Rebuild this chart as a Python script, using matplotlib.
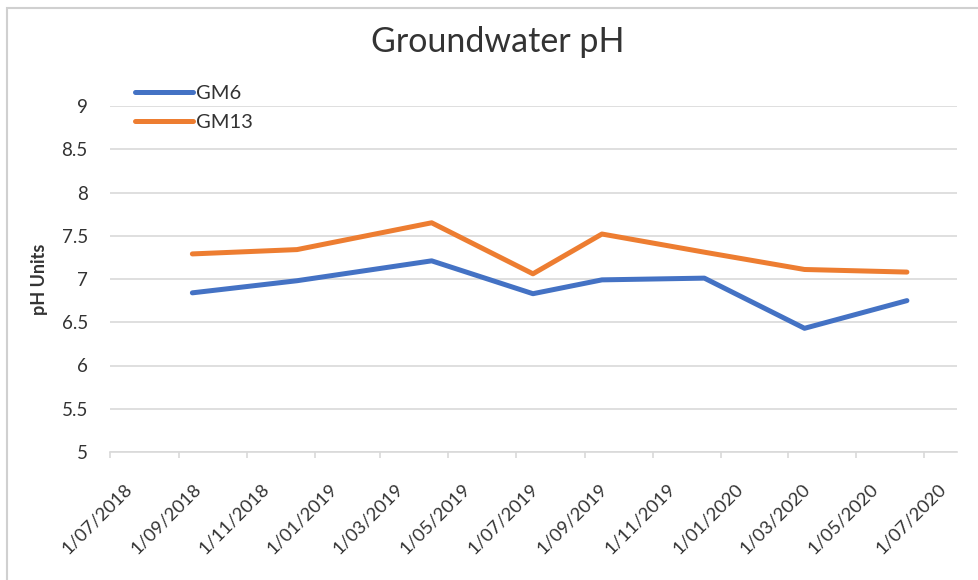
import matplotlib
matplotlib.use("Agg")
import matplotlib.pyplot as plt
import matplotlib.dates as mdates
import matplotlib.patches as mpatches
import matplotlib.transforms as mtransforms
from datetime import datetime

plt.rcParams['font.family'] = ['Lato', 'DejaVu Sans']

# Données
dates = ["2018-09-13", "2018-12-16", "2019-04-16", "2019-07-16",
         "2019-09-16", "2019-12-17", "2020-03-16", "2020-06-16"]
gm6 = [6.84, 6.98, 7.21, 6.83, 6.99, 7.01, 6.43, 6.75]
gm13 = [7.29, 7.34, 7.65, 7.06, 7.52, 7.31, 7.11, 7.08]
series_name = ["GM6", "GM13"]
colors = ["#4472C4", "#ED7D31"]
yticks = [5, 5.5, 6, 6.5, 7, 7.5, 8, 8.5, 9]

x = [datetime.strptime(d, "%Y-%m-%d") for d in dates]
txt = "#333333"

fig = plt.figure(figsize=(9.79, 5.80), dpi=100)
ax = fig.add_axes([110/979, 1-452/580, (957-110)/979, (452-106)/580])

# Cadre gris autour du graphique
fig.patches.append(mpatches.Rectangle((7/979, -0.05), 1.0, 1-8/580+0.05,
                                      transform=fig.transFigure, fill=False,
                                      edgecolor="#d0d0d0", linewidth=1.5))

for vals, name, c in zip([gm6, gm13], series_name, colors):
    ax.plot(x, vals, color=c, linewidth=3.6, label=name, solid_capstyle="round")

ax.set_ylim(5, 9)
ax.set_yticks(yticks)
ax.set_yticklabels([f"{v:g}" for v in yticks])
ax.set_xlim(datetime(2018, 7, 1), datetime(2020, 7, 31))
ax.xaxis.set_major_locator(mdates.MonthLocator(bymonth=[1, 3, 5, 7, 9, 11]))
ax.xaxis.set_major_formatter(plt.FuncFormatter(
    lambda v, pos: (lambda d: f"{d.day}/{d:%m/%Y}")(mdates.num2date(v))))

ax.grid(axis="y", color="#d9d9d9", linewidth=1.2)
ax.set_axisbelow(True)
for s in ["top", "right", "left"]:
    ax.spines[s].set_visible(False)
ax.spines["bottom"].set_color("#d9d9d9")
ax.spines["bottom"].set_linewidth(1.2)
ax.tick_params(axis="y", length=0, pad=16, labelsize=13.5, labelcolor=txt)
ax.tick_params(axis="x", length=4, width=1.2, color="#d9d9d9", pad=2,
               labelsize=13.3, labelcolor=txt)
shift = mtransforms.ScaledTranslation(0.14, -0.20, fig.dpi_scale_trans)
for lab in ax.get_xticklabels():
    lab.set_rotation(45)
    lab.set_ha("right")
    lab.set_rotation_mode("anchor")
    lab.set_transform(lab.get_transform() + shift)

ax.set_ylabel("pH Units", fontsize=13, fontweight="bold", color=txt, labelpad=10)
fig.text(498/979, 1-42/580, "Groundwater pH", ha="center", va="center",
         fontsize=24.5, color=txt)

ax.legend(loc="upper left", bbox_to_anchor=(117/979, 1-67/580),
          bbox_transform=fig.transFigure, frameon=False, fontsize=14.5,
          handlelength=2.85, handletextpad=0.15, labelspacing=0.6,
          labelcolor=txt)

plt.savefig("out.png", dpi=100)
plt.close()
